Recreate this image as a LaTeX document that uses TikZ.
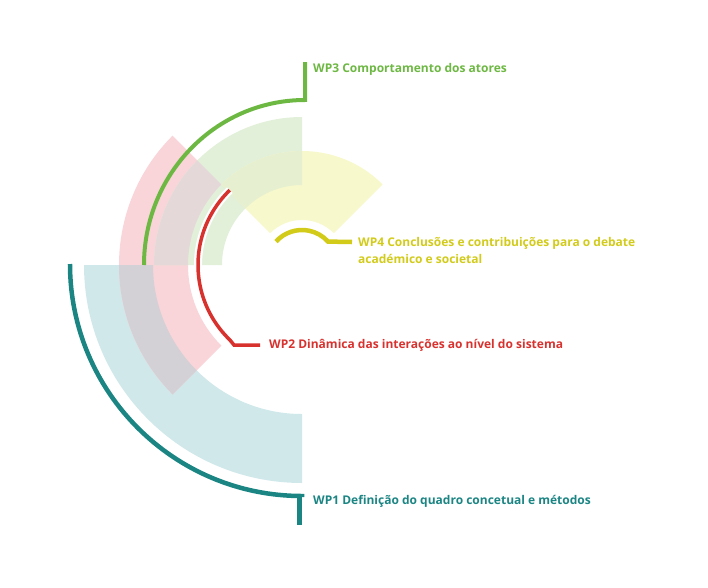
\documentclass[tikz,border=0pt]{standalone}
\usepackage{fontspec}
\setmainfont{Open Sans}
\usepackage{tikz}
\usetikzlibrary{calc}

\definecolor{wpteal}{HTML}{1B8584}
\definecolor{wpred}{HTML}{D8322F}
\definecolor{wpgreen}{HTML}{6DB843}
\definecolor{wpyellow}{HTML}{D2CB1A}
\definecolor{tealfill}{HTML}{D1E8EA}
\definecolor{pinkfill}{HTML}{F9D5D9}
\definecolor{greenfill}{HTML}{E2F0DA}
\definecolor{yellowfill}{HTML}{F8F8CD}
\definecolor{tealpink}{HTML}{D3D1D5}
\definecolor{pinkgreen}{HTML}{E5D8D8}
\definecolor{greenyellow}{HTML}{E6EFCF}

% annular sector: colour, from angle, to angle, inner radius, outer radius
\newcommand{\wpband}[5]{\fill[#1] (#2:#5) arc (#2:#3:#5) -- (#3:#4) arc (#3:#2:#4) -- cycle;}

\begin{document}
\begin{tikzpicture}[x=1pt,y=1pt,
	wpline/.style={line width=4.5pt},
	halo/.style={preaction={draw=white,line width=8pt}},
	wptext/.style={anchor=west,inner sep=0pt,font=\fontsize{12}{17}\selectfont\bfseries}]
		\useasboundingbox (-302,-322) rectangle (406,265);
		
		% Bands
		\wpband{tealfill}{180}{270}{149}{218}
		\wpband{pinkfill}{135}{225}{114}{183}
		\wpband{greenfill}{90}{180}{80}{148}
		\wpband{yellowfill}{45}{135}{45}{114}
		% Overlaps
		\wpband{tealpink}{180}{225}{149}{183}
		\wpband{pinkgreen}{135}{180}{114}{148}
		\wpband{greenyellow}{90}{135}{80}{114}
		
		% Nodes
		\node[wptext,text=wpgreen] (WP3) at (11,196) {WP3 Comportamento dos atores};
		\node[wptext,text=wpyellow,align=left] (WP4) at (56,14.5) {WP4 Conclusões e contribuições para o debate\\académico e societal};
		\node[wptext,text=wpred] (WP2) at (-33,-80) {WP2 Dinâmica das interações ao nível do sistema};
		\node[wptext,text=wpteal] (WP1) at (11,-236) {WP1 Definição do quadro concetual e métodos};
		
		\coordinate (g0) at (-158,0);
		\coordinate (g1) at (3,203);
		\coordinate (y0) at (138:35);
		\coordinate (y1) at (50,23);
		\coordinate (r0) at (134:104);
		\coordinate (t0) at (-232,1);
		\coordinate (t1) at (-2.5,-229.5);
		\coordinate (t2) at (-2.5,-260);
		
		% Brackets
		\draw[wpline,wpteal] (t0) arc (180:270:232) -- (0,-232);
		\draw[wpline,wpteal] (t1) -- (t2);
		\draw[wpline,wpgreen,line width=4pt] (g0) arc [start angle=180,end angle=90,x radius=161,y radius=165] -- (g1);
		\draw[wpline,wpred,line width=3.5pt,halo] (r0) arc (134:226:104) -- (-68,-80) -- ([xshift=-9pt]WP2.west);
		\draw[wpline,wpyellow] (y0) arc (138:42:35) -- (y1);
	\end{tikzpicture}
\end{document}
